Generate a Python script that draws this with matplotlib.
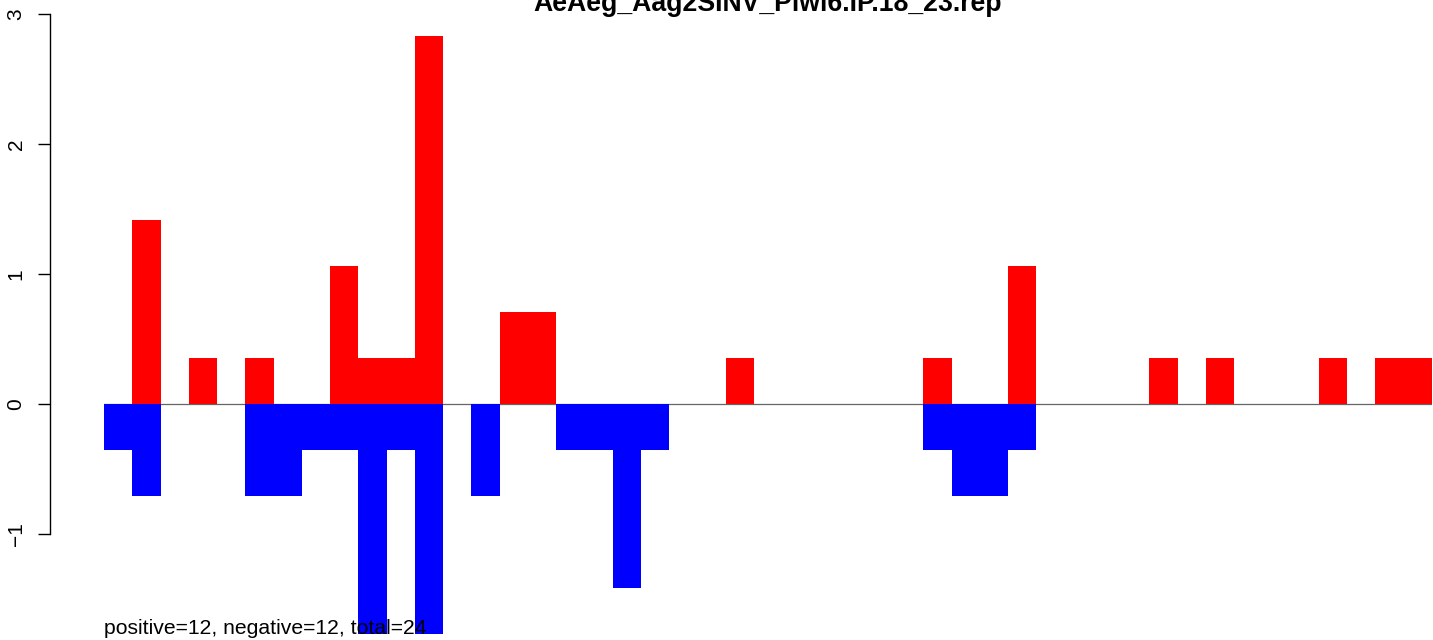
import numpy as np
from matplotlib import pyplot as plt

plt.rcParams['font.family'] = ['Liberation Sans', 'DejaVu Sans']

title = "AeAeg_Aag2SINV_Piwi6.IP.18_23.rep"
note = "positive=12, negative=12, total=24"

# one value per position, 47 positions
positive = [0, 1.415, 0, 0.354, 0, 0.354, 0, 0, 1.061, 0.354,
            0.354, 2.829, 0, 0, 0.707, 0.707, 0, 0, 0, 0,
            0, 0, 0.354, 0, 0, 0, 0, 0, 0, 0.354,
            0, 0, 1.061, 0, 0, 0, 0, 0.354, 0, 0.354,
            0, 0, 0, 0.354, 0, 0.354, 0.354]
negative = [-0.354, -0.707, 0, 0, 0, -0.707, -0.707, -0.354, -0.354, -1.768,
            -0.354, -1.768, 0, -0.707, 0, 0, -0.354, -0.354, -1.415, -0.354,
            0, 0, 0, 0, 0, 0, 0, 0, 0, -0.354,
            -0.707, -0.707, -0.354, 0, 0, 0, 0, 0, 0, 0,
            0, 0, 0, 0, 0, 0, 0]
yticks = [-1, 0, 1, 2, 3]

W, H = 1433, 640
fig = plt.figure(figsize=(W / 100, H / 100), dpi=100)
ax = fig.add_axes([104 / W, 0, 1328 / W, 1])

x = np.arange(len(positive))
ax.axhline(0, color='#666666', lw=0.9, zorder=1)
ax.bar(x, positive, width=1, align='edge', color='#ff0000', linewidth=0, zorder=2)
ax.bar(x, negative, width=1, align='edge', color='#0000ff', linewidth=0, zorder=2)

ax.set_xlim(0, len(positive))
ax.set_ylim(-1.815, 3.108)

for s in ['top', 'right', 'bottom']:
    ax.spines[s].set_visible(False)
ax.spines['left'].set_position(('outward', 54 * 0.72))
ax.spines['left'].set_bounds(-1, 3)
ax.spines['left'].set_linewidth(1.0)
ax.set_xticks([])
ax.set_yticks(yticks)
ax.set_yticklabels([str(v).replace('-', '\u2212') for v in yticks],
                   rotation=90, va='center', fontsize=15)
ax.tick_params(axis='y', length=8.6, width=1.0, pad=9)

# the title sits partly above the top edge, as in the source picture
fig.text(768 / W, 1 - 11 / H, title, ha='center', va='baseline',
         fontsize=19.2, fontweight='bold')
fig.text(104 / W, 1 - 634 / H, note, ha='left', va='baseline', fontsize=15.2,
         zorder=5)

fig.savefig("out.png", dpi=100)
